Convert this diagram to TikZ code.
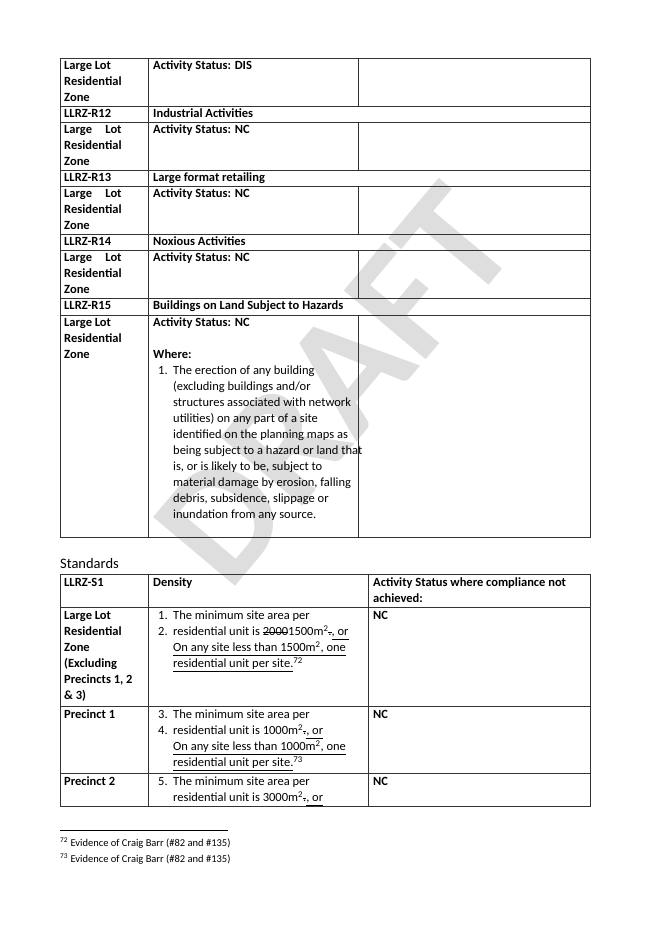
\documentclass[tikz,border=0pt]{standalone}
\usepackage{fontspec}
\setmainfont{Carlito}
\newsavebox\strkbox
\newlength\reswd
\newcommand\strk[1]{\sbox\strkbox{#1}\rlap{\rule[0.55ex]{\wd\strkbox}{0.5pt}}\usebox\strkbox}
\newcommand\uln[1]{\underline{#1}}
\newcommand\lgl{\settowidth\reswd{Residential}\makebox[\reswd][s]{Large Lot}}

\begin{document}
\begin{tikzpicture}[x=1pt,y=-1pt,
  cell/.style={anchor=north west,inner sep=0pt,align=left,font=\fontsize{12.5}{16}\selectfont},
  bcell/.style={cell,font=\bfseries\fontsize{12.5}{16}\selectfont},
  rule/.style={draw=black!80,line width=0.6pt}]
\useasboundingbox (0,0) rectangle (645,934);
% watermark
\node[rotate=50,text=black!13,font=\bfseries\fontsize{165}{165}\selectfont] (wm) at (335,385) {DRAFT};
% rules table
\draw[rule] (60,58) rectangle (590,537);
\foreach \y in {106,122,170,186,234,250,298,315} \draw[rule] (60,\y) -- (590,\y);
\draw[rule] (148,58) -- (148,537);
\foreach \a/\b in {58/106,122/170,186/234,250/298,315/537} \draw[rule] (358,\a) -- (358,\b);
\node[bcell] (z1) at (64,61) {Large Lot\\Residential\\Zone};
\node[bcell] (s1) at (153,61) {Activity Status: DIS};
\node[bcell] (r12) at (64,109) {LLRZ-R12};
\node[bcell] (t12) at (153,109) {Industrial Activities};
\node[bcell] (z2) at (64,125) {\lgl\\Residential\\Zone};
\node[bcell] (s2) at (153,125) {Activity Status: NC};
\node[bcell] (r13) at (64,173) {LLRZ-R13};
\node[bcell] (t13) at (153,173) {Large format retailing};
\node[bcell] (z3) at (64,189) {\lgl\\Residential\\Zone};
\node[bcell] (s3) at (153,189) {Activity Status: NC};
\node[bcell] (r14) at (64,237) {LLRZ-R14};
\node[bcell] (t14) at (153,237) {Noxious Activities};
\node[bcell] (z4) at (64,253) {\lgl\\Residential\\Zone};
\node[bcell] (s4) at (153,253) {Activity Status: NC};
\node[bcell] (r15) at (64,301) {LLRZ-R15};
\node[bcell] (t15) at (153,301) {Buildings on Land Subject to Hazards};
\node[bcell] (z5) at (64,318) {Large Lot\\Residential\\Zone};
\node[bcell] (s5) at (153,318) {Activity Status: NC\\[16pt]Where:};
\node[cell] (n1) at (158,366) {1.};
\node[cell] (w1) at (173,366) {The erection of any building\\(excluding buildings and/or\\structures associated with network\\utilities) on any part of a site\\identified on the planning maps as\\being subject to a hazard or land that\\is, or is likely to be, subject to\\material damage by erosion, falling\\debris, subsidence, slippage or\\inundation from any source.};
% standards
\node[cell,font=\fontsize{14.5}{16}\selectfont] (std) at (60,558) {Standards};
\draw[rule] (60,574) rectangle (590,806);
\foreach \y in {607,706,773} \draw[rule] (60,\y) -- (590,\y);
\draw[rule] (148,574) -- (148,806);
\draw[rule] (368,574) -- (368,806);
\node[bcell] (h1) at (64,578) {LLRZ-S1};
\node[bcell] (h2) at (153,578) {Density};
\node[bcell] (h3) at (373,578) {Activity Status where compliance not\\achieved:};
\node[bcell] (p0) at (64,611) {Large Lot\\Residential\\Zone\\(Excluding\\Precincts 1, 2\\\& 3)};
\node[cell] (d1) at (158,611) {1.\\2.};
\node[cell] (d1t) at (173,611) {The minimum site area per\\residential unit is \strk{2000}1500m\textsuperscript{2}\strk{.}\uln{, or}\\\uln{On any site less than 1500m\textsuperscript{2}, one}\\\uln{residential unit per site.}\textsuperscript{72}};
\node[bcell] (a1) at (373,611) {NC};
\node[bcell] (p1) at (64,710) {Precinct 1};
\node[cell] (d2) at (158,710) {3.\\4.};
\node[cell] (d2t) at (173,710) {The minimum site area per\\residential unit is 1000m\textsuperscript{2}\strk{.}\uln{, or}\\\uln{On any site less than 1000m\textsuperscript{2}, one}\\\uln{residential unit per site.}\textsuperscript{73}};
\node[bcell] (a2) at (373,710) {NC};
\node[bcell] (p2) at (64,777) {Precinct 2};
\node[cell] (d3) at (158,777) {5.};
\node[cell] (d3t) at (173,777) {The minimum site area per\\residential unit is 3000m\textsuperscript{2}\strk{.}\uln{, or}};
\node[bcell] (a3) at (373,777) {NC};
% footnotes
\draw[line width=0.5pt] (60,830) -- (228,830);
\node[cell,font=\fontsize{10.5}{16}\selectfont] (f1) at (60,838) {\textsuperscript{72} Evidence of Craig Barr (\#82 and \#135)\\\textsuperscript{73} Evidence of Craig Barr (\#82 and \#135)};
\end{tikzpicture}
\end{document}
